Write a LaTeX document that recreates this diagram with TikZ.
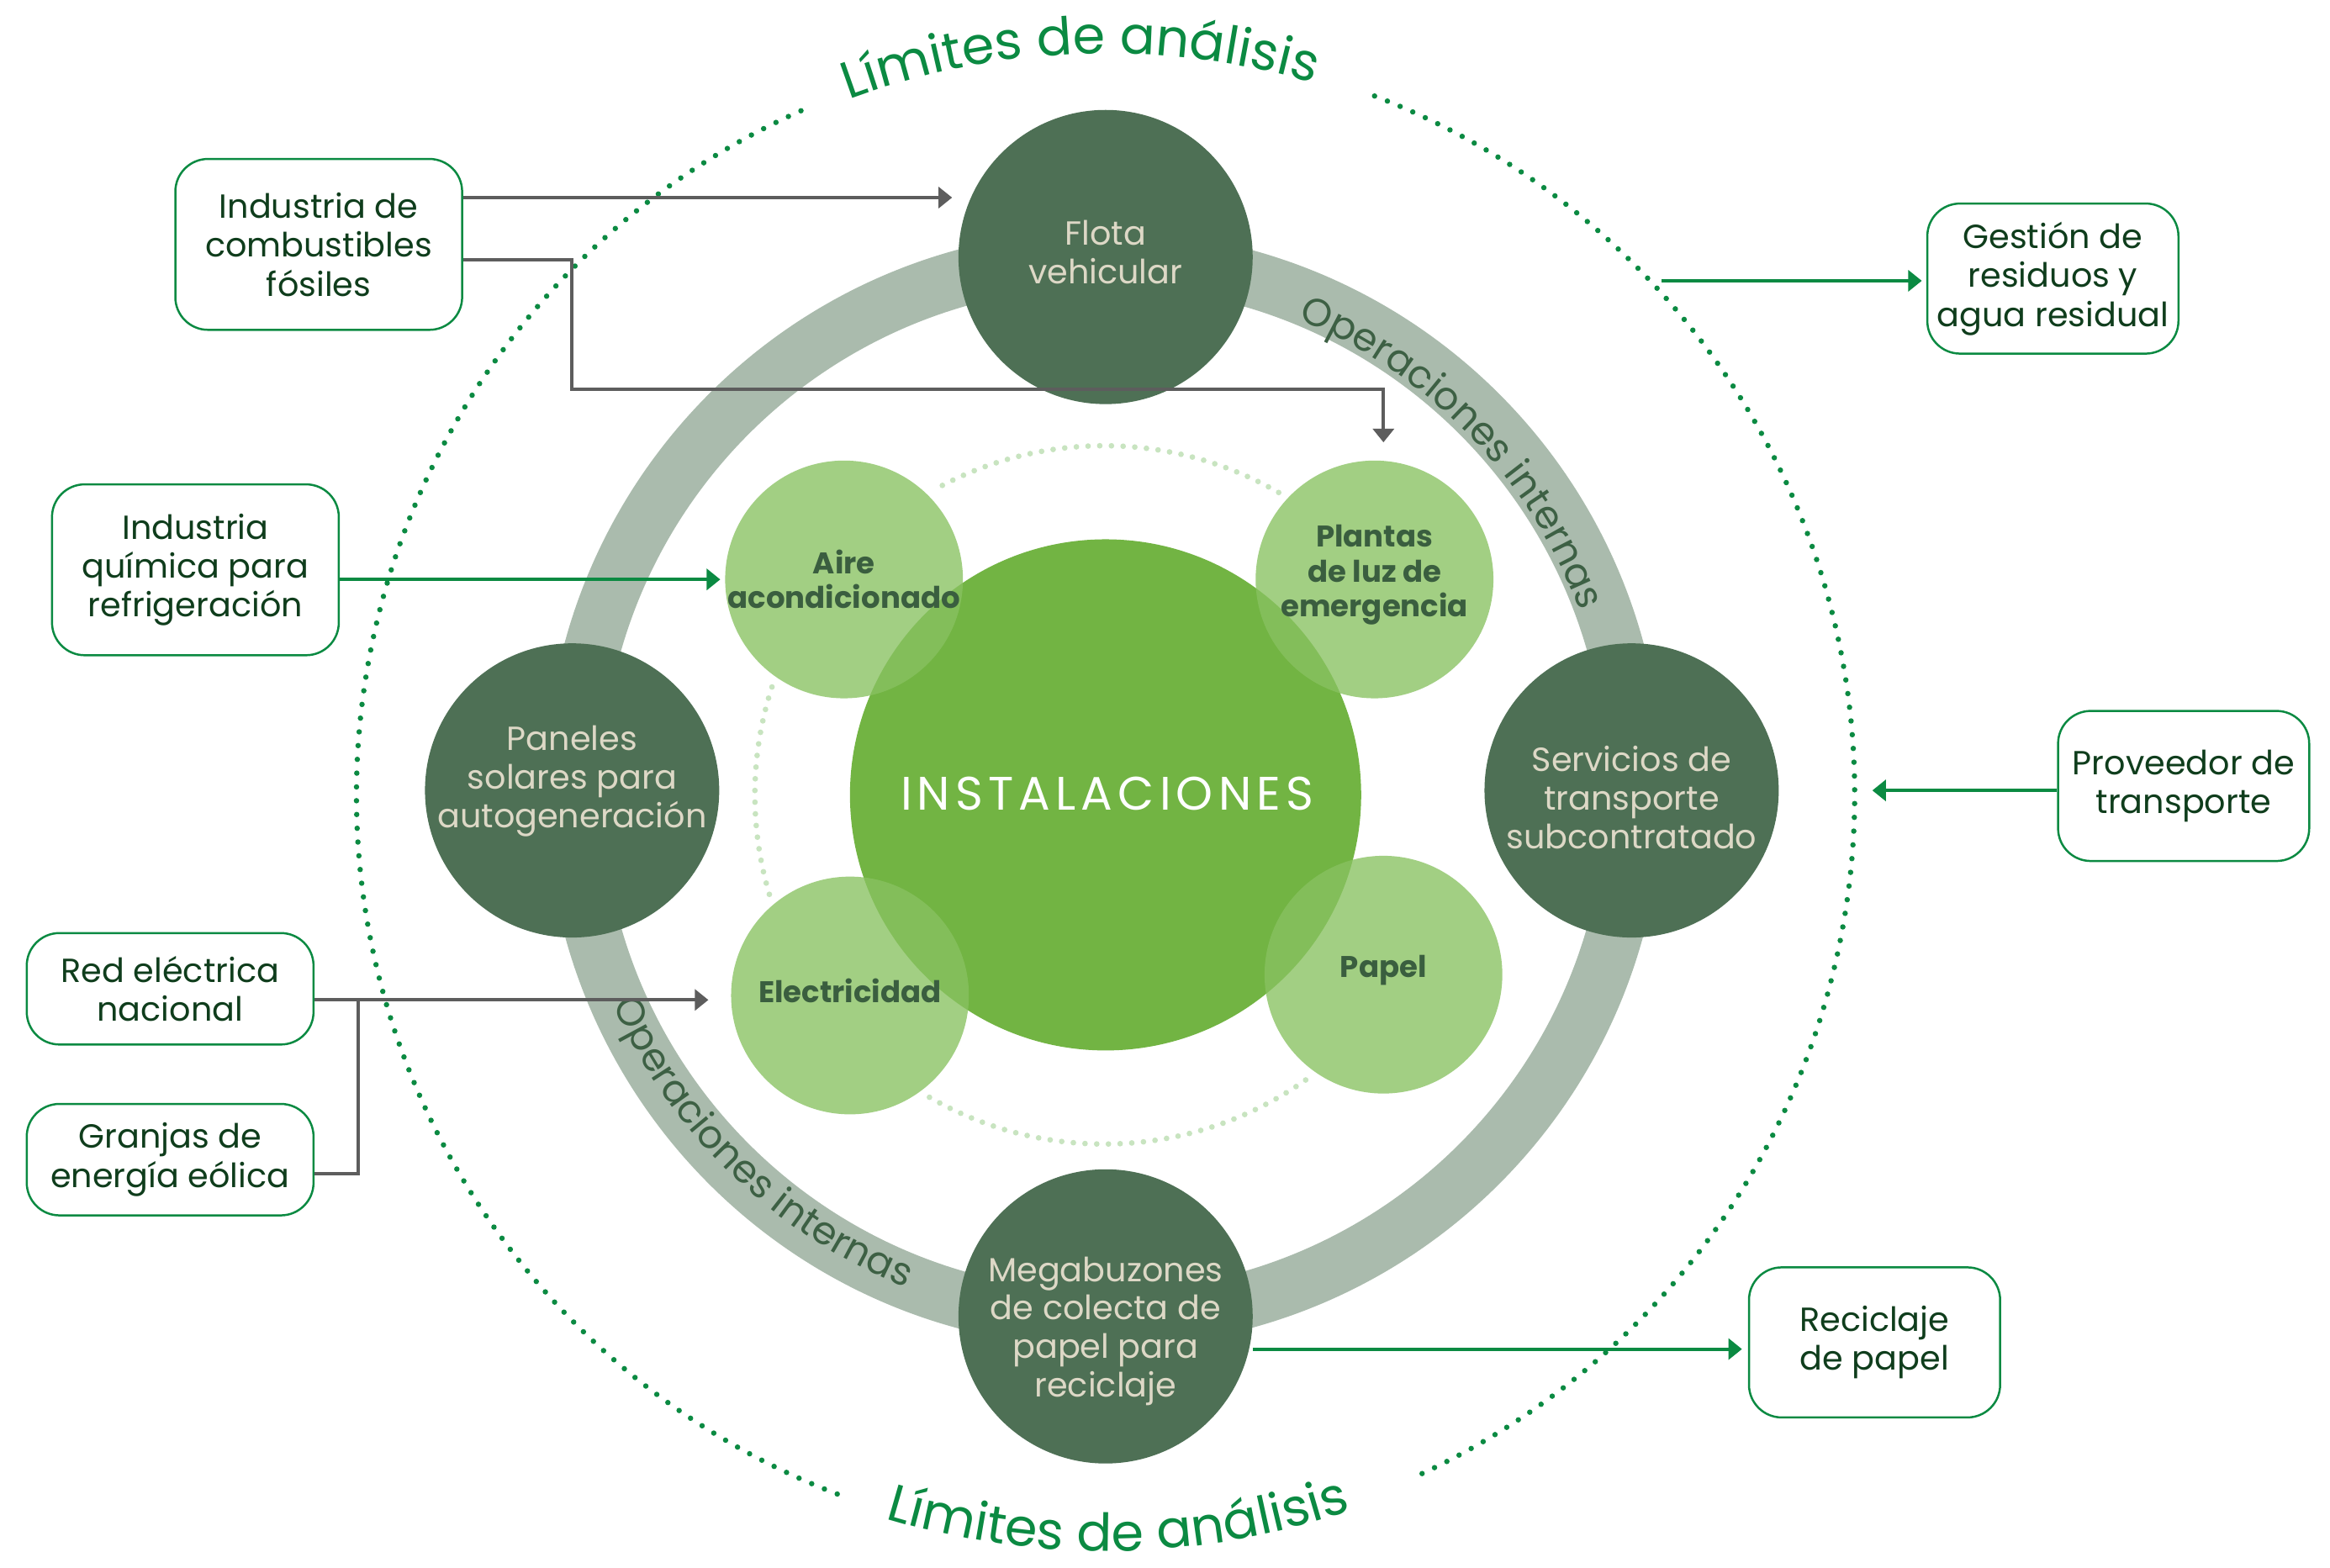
\documentclass[tikz,border=0pt]{standalone}
\usepackage{fontspec}
\setmainfont{Poppins}
\usetikzlibrary{arrows.meta,decorations.text,calc}
\definecolor{limgreen}{HTML}{0B8A42}
\definecolor{ringgray}{HTML}{AABBAD}
\definecolor{darkc}{HTML}{4E7055}
\definecolor{darktext}{HTML}{DDD8C6}
\definecolor{biggreen}{HTML}{72B443}
\definecolor{lightc}{HTML}{89C261}
\definecolor{lighttext}{HTML}{3A5E3F}
\definecolor{ringtext}{HTML}{3D6044}
\definecolor{boxtext}{HTML}{0F3D1C}
\definecolor{arrowgray}{HTML}{5D5D5D}
\definecolor{innerdot}{HTML}{C8E4C0}
\begin{document}
\begin{tikzpicture}[x=0.25mm,y=0.25mm,
  darkcirc/.style={circle, fill=darkc, minimum size=49.5mm, inner sep=0pt},
  lightcirc/.style={circle, fill=lightc, fill opacity=0.78, minimum size=40mm, inner sep=0pt},
  darklbl/.style={text=darktext, align=center, inner sep=0pt, font=\fontsize{16}{18.5}\selectfont},
  lightlbl/.style={text=lighttext, align=center, inner sep=0pt, font=\fontsize{14.3}{16.6}\selectfont\bfseries},
  extbox/.style={draw=limgreen, line width=1pt, rounded corners=5.5mm, fill=white, text=boxtext, align=center, inner sep=0pt, font=\fontsize{16}{18.7}\selectfont},
  widebox/.style={extbox, minimum width=48.25mm},
  narrowbox/.style={extbox, minimum width=42.25mm, minimum height=25.25mm},
  grayarrow/.style={draw=arrowgray, line width=1.6pt, -{Triangle[length=6.5pt,width=10pt]}},
  greenarrow/.style={draw=limgreen, line width=1.6pt, -{Triangle[length=6.5pt,width=10pt]}},
  grayline/.style={draw=arrowgray, line width=1.6pt},
  outerdots/.style={draw=limgreen, line width=2.6pt, line cap=round, dash pattern=on 0pt off 6.6pt},
  innerdots/.style={draw=innerdot, line width=2.7pt, line cap=round, dash pattern=on 0pt off 5.6pt},
  limtext/.style={decorate, decoration={text along path, text align=center, text color=limgreen,
     text={|\fontsize{25}{30}\selectfont|Límites de análisis}}},
  optext/.style={decorate, decoration={text along path, text align=center, text color=ringtext,
     text={|\fontsize{18.6}{22}\selectfont|Operaciones internas}}},
]
\useasboundingbox (0,0) rectangle (1568,1055);
\fill[white] (0,0) rectangle (1568,1055);

\coordinate (oc) at (744,520);
\coordinate (rc) at (743,524);
\coordinate (ic) at (743,520);

% analysis boundary
\draw[outerdots] (oc) ++(114:504) arc[start angle=114, end angle=250, radius=504];
\draw[outerdots] (oc) ++(295:504) arc[start angle=295, end angle=430, radius=504];
\path[limtext] (oc) ++(117:499) arc[start angle=117, end angle=67, radius=499];
\path[limtext] (oc) ++(246:509) arc[start angle=246, end angle=296, radius=509];

% internal operations ring
\draw[ringgray, line width=9.5mm] (rc) circle[radius=357];
\path[optext] (rc) ++(68:342) arc[start angle=68, end angle=20, radius=342];
\path[optext] (rc) ++(200:361) arc[start angle=200, end angle=252, radius=361];

% inner dotted circle
\draw[innerdots] (ic) ++(60:235) arc[start angle=60, end angle=119, radius=235];
\draw[innerdots] (ic) ++(162:235) arc[start angle=162, end angle=197, radius=235];
\draw[innerdots] (ic) ++(240:235) arc[start angle=240, end angle=306, radius=235];

% center
\node[circle, fill=biggreen, minimum size=86mm, inner sep=0pt] (inst) at (744,520) {};
\node[text=white, inner sep=0pt, font=\fontsize{22.5}{26}\selectfont\addfontfeature{LetterSpace=11}] (instT) at (745,521) {INSTALACIONES};

% light circles
\node[lightcirc] (aire) at (568,665) {};
\node[lightcirc] (plantas) at (925,665) {};
\node[lightcirc] (elec) at (572,385) {};
\node[lightcirc] (papel) at (931,399) {};
\node[lightlbl] (aireT) at (568,665) {Aire\\acondicionado};
\node[lightlbl] (plantasT) at (925,668) {Plantas\\de luz de\\emergencia};
\node[lightlbl] (elecT) at (572,388) {Electricidad};
\node[lightlbl] (papelT) at (931,402) {Papel};

% dark circles
\node[darkcirc] (flota) at (744,882) {};
\node[darkcirc] (paneles) at (385,523) {};
\node[darkcirc] (serv) at (1098,523) {};
\node[darkcirc] (mega) at (744,169) {};
\node[darklbl] (flotaT) at (744,885) {Flota\\vehicular};
\node[darklbl] (panelesT) at (385,529) {Paneles\\solares para\\autogeneración};
\node[darklbl] (servT) at (1098,518) {Servicios de\\transporte\\subcontratado};
\node[darklbl] (megaT) at (744,159) {Megabuzones\\de colecta de\\papel para\\reciclaje};

% external boxes
\node[widebox, minimum height=28.75mm] (fossil) at (214.5,890.5) {Industria de\\combustibles\\fósiles};
\node[widebox, minimum height=28.75mm] (quimica) at (131.5,671.5) {Industria\\química para\\refrigeración};
\node[widebox, minimum height=18.75mm] (red) at (114.5,389.5) {Red eléctrica\\nacional};
\node[widebox, minimum height=18.75mm] (granjas) at (114.5,274.5) {Granjas de\\energía eólica};
\node[narrowbox] (gestion) at (1381.5,867.5) {Gestión de\\residuos y\\agua residual};
\node[narrowbox] (prov) at (1469.5,526) {Proveedor de\\transporte};
\node[narrowbox] (recic) at (1261.5,151.5) {Reciclaje\\de papel};

% helper coordinates
\coordinate (h922) at (0,922);
\coordinate (h880) at (0,880);
\coordinate (k1) at (385,793);
\coordinate (h382) at (0,382);
\coordinate (jn) at (241,382);
\coordinate (h265) at (0,265);
\coordinate (g0) at (1118,866);
\coordinate (p0) at (1260,523);
\coordinate (h147) at (0,147);

% connectors
\draw[grayarrow, shorten >=1mm] (fossil.east |- h922) -- (flota.west |- h922);
\draw[grayarrow, shorten >=3mm] (fossil.east |- h880) -| (k1) -| ([xshift=1.5mm]plantas.north);
\draw[greenarrow, shorten >=0.75mm] (quimica.east |- aire.west) -- (aire.west);
\draw[grayarrow, shorten >=3.75mm] (red.east |- h382) -- (elec.west |- h382);
\draw[grayline] (granjas.east |- h265) -| (jn);
\draw[greenarrow, shorten >=0.75mm] (g0) -- (gestion.west |- g0);
\draw[greenarrow] (prov.west |- p0) -- (p0);
\draw[greenarrow, shorten >=1mm] (mega.east |- h147) -- (recic.west |- h147);
\end{tikzpicture}
\end{document}
